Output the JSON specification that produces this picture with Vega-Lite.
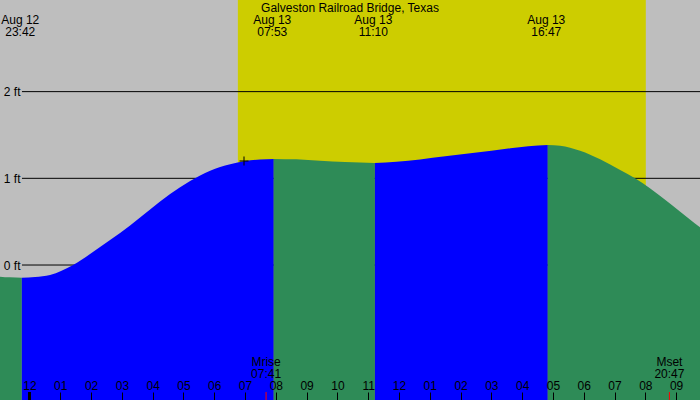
{
  "$schema": "https://vega.github.io/schema/vega-lite/v6.json",
  "description": "Tide chart, Galveston Railroad Bridge, Texas, Aug 12-13",
  "width": 700,
  "height": 400,
  "autosize": {"type": "none"},
  "padding": 0,
  "background": "#bebebe",
  "title": {
    "text": "Galveston Railroad Bridge, Texas",
    "font": "Liberation Sans",
    "fontSize": 12,
    "fontWeight": "normal",
    "color": "black",
    "anchor": "middle",
    "baseline": "alphabetic",
    "offset": -24
  },
  "datasets": {
    "tide": [
      {"time": "2024-08-12T23:00", "ft": -0.133, "seg": 1, "phase": "falling"},
      {"time": "2024-08-12T23:22", "ft": -0.142, "seg": 1, "phase": "falling"},
      {"time": "2024-08-12T23:45", "ft": -0.146, "seg": 1, "phase": "falling"},
      {"time": "2024-08-12T23:45", "ft": -0.146, "seg": 2, "phase": "rising"},
      {"time": "2024-08-13T00:11", "ft": -0.138, "seg": 2, "phase": "rising"},
      {"time": "2024-08-13T00:40", "ft": -0.115, "seg": 2, "phase": "rising"},
      {"time": "2024-08-13T01:25", "ft": 0.0, "seg": 2, "phase": "rising"},
      {"time": "2024-08-13T01:58", "ft": 0.127, "seg": 2, "phase": "rising"},
      {"time": "2024-08-13T02:37", "ft": 0.288, "seg": 2, "phase": "rising"},
      {"time": "2024-08-13T03:16", "ft": 0.456, "seg": 2, "phase": "rising"},
      {"time": "2024-08-13T03:55", "ft": 0.64, "seg": 2, "phase": "rising"},
      {"time": "2024-08-13T04:34", "ft": 0.819, "seg": 2, "phase": "rising"},
      {"time": "2024-08-13T05:13", "ft": 0.969, "seg": 2, "phase": "rising"},
      {"time": "2024-08-13T05:52", "ft": 1.088, "seg": 2, "phase": "rising"},
      {"time": "2024-08-13T06:31", "ft": 1.161, "seg": 2, "phase": "rising"},
      {"time": "2024-08-13T07:00", "ft": 1.2, "seg": 2, "phase": "rising"},
      {"time": "2024-08-13T07:29", "ft": 1.216, "seg": 2, "phase": "rising"},
      {"time": "2024-08-13T07:56", "ft": 1.224, "seg": 2, "phase": "rising"},
      {"time": "2024-08-13T07:56", "ft": 1.224, "seg": 3, "phase": "falling"},
      {"time": "2024-08-13T08:40", "ft": 1.219, "seg": 3, "phase": "falling"},
      {"time": "2024-08-13T09:26", "ft": 1.203, "seg": 3, "phase": "falling"},
      {"time": "2024-08-13T10:15", "ft": 1.187, "seg": 3, "phase": "falling"},
      {"time": "2024-08-13T11:13", "ft": 1.176, "seg": 3, "phase": "falling"},
      {"time": "2024-08-13T11:13", "ft": 1.176, "seg": 4, "phase": "rising"},
      {"time": "2024-08-13T11:55", "ft": 1.19, "seg": 4, "phase": "rising"},
      {"time": "2024-08-13T12:41", "ft": 1.218, "seg": 4, "phase": "rising"},
      {"time": "2024-08-13T13:30", "ft": 1.254, "seg": 4, "phase": "rising"},
      {"time": "2024-08-13T14:19", "ft": 1.288, "seg": 4, "phase": "rising"},
      {"time": "2024-08-13T15:00", "ft": 1.318, "seg": 4, "phase": "rising"},
      {"time": "2024-08-13T15:37", "ft": 1.346, "seg": 4, "phase": "rising"},
      {"time": "2024-08-13T16:12", "ft": 1.369, "seg": 4, "phase": "rising"},
      {"time": "2024-08-13T16:50", "ft": 1.384, "seg": 4, "phase": "rising"},
      {"time": "2024-08-13T16:50", "ft": 1.384, "seg": 5, "phase": "falling"},
      {"time": "2024-08-13T17:14", "ft": 1.376, "seg": 5, "phase": "falling"},
      {"time": "2024-08-13T17:53", "ft": 1.318, "seg": 5, "phase": "falling"},
      {"time": "2024-08-13T18:32", "ft": 1.219, "seg": 5, "phase": "falling"},
      {"time": "2024-08-13T19:11", "ft": 1.096, "seg": 5, "phase": "falling"},
      {"time": "2024-08-13T19:40", "ft": 1.0, "seg": 5, "phase": "falling"},
      {"time": "2024-08-13T20:09", "ft": 0.885, "seg": 5, "phase": "falling"},
      {"time": "2024-08-13T20:48", "ft": 0.71, "seg": 5, "phase": "falling"},
      {"time": "2024-08-13T21:27", "ft": 0.526, "seg": 5, "phase": "falling"},
      {"time": "2024-08-13T21:50", "ft": 0.42, "seg": 5, "phase": "falling"}
    ],
    "extremes": [
      {"time": "2024-08-12T23:42", "label": "Aug 12\n23:42"},
      {"time": "2024-08-13T07:53", "label": "Aug 13\n07:53"},
      {"time": "2024-08-13T11:10", "label": "Aug 13\n11:10"},
      {"time": "2024-08-13T16:47", "label": "Aug 13\n16:47"}
    ],
    "moon": [
      {"time": "2024-08-13T07:41", "label": "Mrise\n07:41"},
      {"time": "2024-08-13T20:47", "label": "Mset\n20:47"}
    ],
    "daylight": [
      {"sunrise": "2024-08-13T06:46", "sunset": "2024-08-13T20:01"}
    ],
    "levels": [
      {"ft": 0, "from": "2024-08-12T23:45:20", "to": "2024-08-13T21:47"},
      {"ft": 1, "from": "2024-08-12T23:45:20", "to": "2024-08-13T21:47"},
      {"ft": 2, "from": "2024-08-12T23:45:20", "to": "2024-08-13T21:47"}
    ],
    "marker": [{"time": "2024-08-13T06:58", "ft": 1.2}],
    "midnight": [{"time": "2024-08-13T00:00"}]
  },
  "layer": [
    {
      "data": {"name": "daylight"},
      "mark": {"type": "rect", "color": "#cdcd00"},
      "encoding": {
        "x": {"field": "sunrise", "type": "temporal"},
        "x2": {"field": "sunset"}
      }
    },
    {
      "data": {"name": "levels"},
      "mark": {"type": "rule", "color": "black", "strokeWidth": 1},
      "encoding": {
        "y": {"field": "ft", "type": "quantitative"},
        "x": {"field": "from", "type": "temporal"},
        "x2": {"field": "to"}
      }
    },
    {
      "data": {"name": "tide"},
      "mark": {"type": "area", "interpolate": "monotone", "clip": true},
      "encoding": {
        "x": {
          "field": "time",
          "type": "temporal",
          "scale": {
            "domain": [
              {"year": 2024, "month": 8, "date": 12, "hours": 23, "minutes": 2, "seconds": 30},
              {"year": 2024, "month": 8, "date": 13, "hours": 21, "minutes": 46, "seconds": 36}
            ],
            "nice": false
          },
          "axis": {
            "orient": "bottom",
            "title": null,
            "domain": false,
            "grid": false,
            "tickCount": 24,
            "format": "%I",
            "tickSize": -8,
            "tickColor": "black",
            "tickWidth": 1,
            "labelPadding": -12,
            "labelBaseline": "top",
            "labelFont": "Liberation Sans",
            "labelFontSize": 12,
            "labelColor": "black",
            "labelFlush": false,
            "labelOverlap": false,
            "minExtent": 0,
            "maxExtent": 0,
            "zindex": 1
          }
        },
        "y": {
          "field": "ft",
          "type": "quantitative",
          "stack": null,
          "scale": {"domain": [-1.557, 3.057], "nice": false, "zero": false},
          "axis": {
            "orient": "left",
            "offset": -22,
            "title": null,
            "domain": false,
            "grid": false,
            "ticks": false,
            "values": [0, 1, 2],
            "labelExpr": "datum.value + ' ft'",
            "labelPadding": 2,
            "labelFont": "Liberation Sans",
            "labelFontSize": 12,
            "labelColor": "black",
            "minExtent": 0,
            "maxExtent": 0,
            "zindex": 1
          }
        },
        "y2": {"datum": -1.557},
        "detail": {"field": "seg", "type": "nominal"},
        "color": {
          "field": "phase",
          "type": "nominal",
          "scale": {"domain": ["falling", "rising"], "range": ["#2e8b57", "#0000ff"]},
          "legend": null
        }
      }
    },
    {
      "data": {"name": "marker"},
      "mark": {
        "type": "point",
        "shape": "M-1,0L1,0M0,-1L0,1",
        "size": 81,
        "filled": false,
        "stroke": "black",
        "strokeWidth": 1,
        "opacity": 1
      },
      "encoding": {
        "x": {"field": "time", "type": "temporal"},
        "y": {"field": "ft", "type": "quantitative"}
      }
    },
    {
      "data": {"name": "extremes"},
      "mark": {
        "type": "text",
        "font": "Liberation Sans",
        "fontSize": 12,
        "color": "black",
        "align": "center",
        "baseline": "top",
        "lineBreak": "\n",
        "lineHeight": 12
      },
      "encoding": {
        "x": {"field": "time", "type": "temporal"},
        "y": {"datum": 2.883, "type": "quantitative"},
        "text": {"field": "label", "type": "nominal"}
      }
    },
    {
      "data": {"name": "moon"},
      "mark": {
        "type": "text",
        "font": "Liberation Sans",
        "fontSize": 12,
        "color": "black",
        "align": "center",
        "baseline": "top",
        "lineBreak": "\n",
        "lineHeight": 12
      },
      "encoding": {
        "x": {"field": "time", "type": "temporal"},
        "y": {"datum": -1.062, "type": "quantitative"},
        "text": {"field": "label", "type": "nominal"}
      }
    },
    {
      "data": {"name": "moon"},
      "mark": {"type": "rule", "color": "red", "strokeWidth": 1},
      "encoding": {
        "x": {"field": "time", "type": "temporal"},
        "y": {"datum": -1.465, "type": "quantitative"},
        "y2": {"datum": -1.557}
      }
    },
    {
      "data": {"name": "midnight"},
      "mark": {"type": "rule", "color": "black", "strokeWidth": 3},
      "encoding": {
        "x": {"field": "time", "type": "temporal"},
        "y": {"datum": -1.465, "type": "quantitative"},
        "y2": {"datum": -1.557}
      }
    }
  ],
  "config": {
    "font": "Liberation Sans",
    "view": {"stroke": null, "fill": "#bebebe"}
  }
}
